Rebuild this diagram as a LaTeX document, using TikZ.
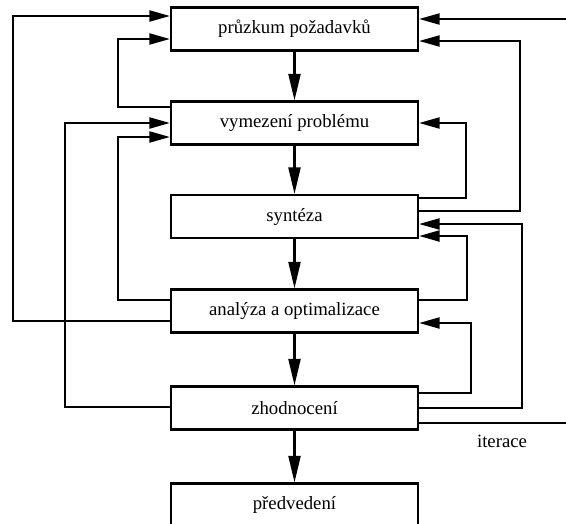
\documentclass[tikz,border=0pt]{standalone}
\usepackage{fontspec}
\setmainfont{Liberation Serif}
\usetikzlibrary{arrows.meta}
\begin{document}
\begin{tikzpicture}[x=0.03cm,y=-0.03cm,
  box/.style={draw,line width=1.8pt,minimum width=7.41cm,minimum height=1.29cm,inner sep=0pt,
    font=\fontsize{16}{19}\selectfont},
  link/.style={line width=2pt,-{Triangle[length=0.62cm,width=0.33cm]}},
  down/.style={line width=2pt,-{Triangle[length=0.8cm,width=0.36cm]}}]
\useasboundingbox (0,0) rectangle (566,523);
\node[box] (b1) at (294.5,29) {průzkum požadavků};
\node[box] (b2) at (294.5,123) {vymezení problému};
\node[box] (b3) at (294.5,216.5) {syntéza};
\node[box] (b4) at (294.5,311) {analýza a optimalizace};
\node[box] (b5) at (294.5,408) {zhodnocení};
\node[box] (b6) at (294.5,505) {předvedení};
% main flow
\draw[down] (b1) -- (b2);
\draw[down] (b2) -- (b3);
\draw[down] (b3) -- (b4);
\draw[down] (b4) -- (b5);
\draw[down] (b5) -- (b6);
% left feedback
\draw[link] (b4.west |- 0,321) -- (13,321) -- (13,16) -- (b1.west |- 0,16);
\draw[link] (b2.west |- 0,107) -- (118,107) -- (118,39) -- (b1.west |- 0,39);
\draw[link] (b5.west |- 0,407) -- (65,407) -- (65,123) -- (b2.west |- 0,123);
\draw[link] (b4.west |- 0,300) -- (118,300) -- (118,137) -- (b2.west |- 0,137);
% right feedback
\draw[link] (b5.east |- 0,423) -- (568,423) -- (568,19) -- (b1.east |- 0,19);
\draw[link] (b3.east |- 0,211) -- (520,211) -- (520,41) -- (b1.east |- 0,41);
\draw[link] (b3.east |- 0,198) -- (466,198) -- (466,123) -- (b2.east |- 0,123);
\draw[link] (b5.east |- 0,408) -- (522,408) -- (522,224) -- (b3.east |- 0,224);
\draw[link] (b4.east |- 0,300) -- (467,300) -- (467,236) -- (b3.east |- 0,236);
\draw[link] (b5.east |- 0,393) -- (471,393) -- (471,323) -- (b4.east |- 0,323);
\node[font=\fontsize{16}{19}\selectfont] (it) at (502,441) {iterace};
\end{tikzpicture}
\end{document}
